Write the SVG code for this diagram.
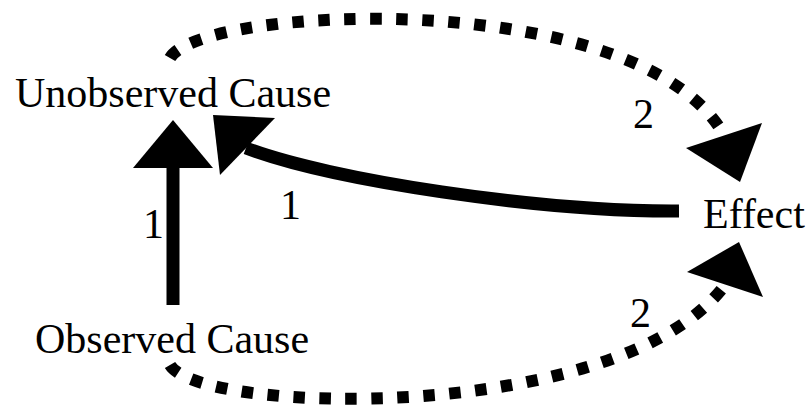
<svg xmlns="http://www.w3.org/2000/svg" width="809" height="411" viewBox="0 0 809 411">
<style>
  text { font-family: "Liberation Serif", "Times New Roman", serif; font-size: 42px; fill: #000; }
  .solid { fill: none; stroke: #000; stroke-width: 13; }
  .dotted { fill: none; stroke: #000; stroke-width: 12; stroke-dasharray: 11.5 14.5; }
  .head { fill: #000; stroke: none; }
</style>
<rect width="809" height="411" fill="#fff"/>
<g id="connectors">
  <path class="solid" d="M173,305 L173,165"/>
  <polygon class="head" points="173,120 213,168 133,168"/>
  <path class="solid" d="M679,211 C540,212 330,180 246,148"/>
  <polygon class="head" points="213,115 275,118 220,175"/>
  <path class="dotted" d="M170,58 C200,5 640,-15 724,135"/>
  <polygon class="head" points="740,182 686,148 762,123"/>
  <path class="dotted" d="M170,365 C200,415 620,425 725,285"/>
  <polygon class="head" points="739,242 687,272 763,297"/>
  <text x="143" y="238">1</text>
  <text x="280" y="219">1</text>
  <text x="633" y="128">2</text>
  <text x="630" y="327">2</text>
</g>
<g id="unobserved"><text x="15" y="107">Unobserved Cause</text></g>
<g id="observed"><text x="35" y="353">Observed Cause</text></g>
<g id="effect"><text x="703" y="228">Effect</text></g>
</svg>
